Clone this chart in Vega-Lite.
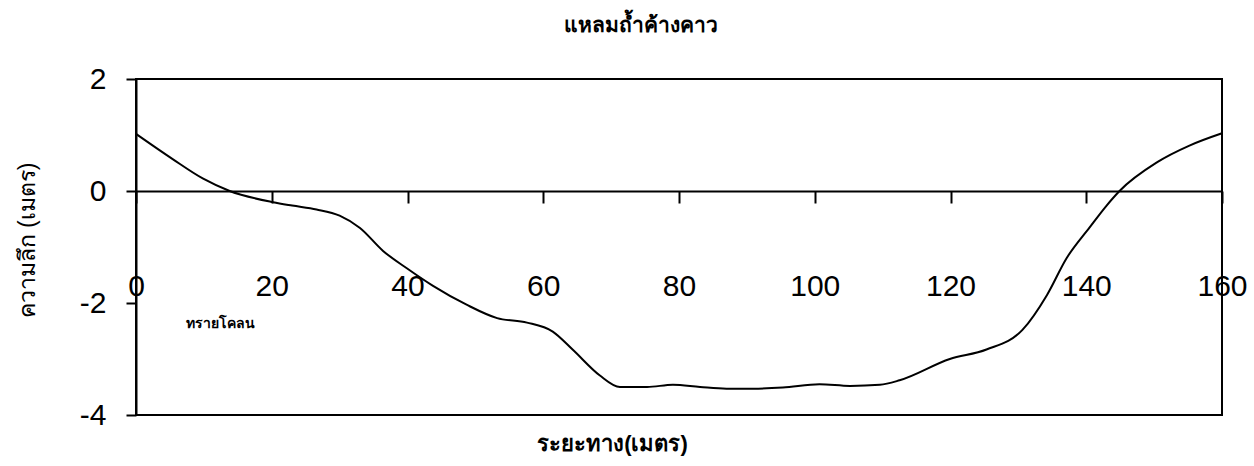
{
  "$schema": "https://vega.github.io/schema/vega-lite/v6.json",
  "width": 1086,
  "height": 336,
  "autosize": {"type": "none"},
  "padding": {"left": 136, "top": 79, "right": 32, "bottom": 51},
  "background": "white",
  "config": {"view": {"stroke": "black", "strokeWidth": 2}, "font": "Liberation Sans"},
  "title": {"text": "แหลมถ้ำค้างคาว", "fontSize": 21, "fontWeight": "bold", "anchor": "middle", "frame": "group", "dx": -38, "offset": 28, "color": "black"},
  "layer": [
    {
      "data": {"values": [
        {"distance": 0, "depth": 1.02},
        {"distance": 5.4, "depth": 0.57},
        {"distance": 9.9, "depth": 0.22},
        {"distance": 13.8, "depth": 0},
        {"distance": 20.2, "depth": -0.2},
        {"distance": 23, "depth": -0.26},
        {"distance": 26.6, "depth": -0.33},
        {"distance": 30, "depth": -0.44},
        {"distance": 33, "depth": -0.66},
        {"distance": 36.4, "depth": -1.07},
        {"distance": 39.9, "depth": -1.38},
        {"distance": 43.7, "depth": -1.69},
        {"distance": 48.7, "depth": -2.03},
        {"distance": 53.2, "depth": -2.27},
        {"distance": 57.6, "depth": -2.35},
        {"distance": 61.4, "depth": -2.51},
        {"distance": 64.4, "depth": -2.84},
        {"distance": 68.3, "depth": -3.29},
        {"distance": 71.3, "depth": -3.5},
        {"distance": 75.3, "depth": -3.5},
        {"distance": 79.1, "depth": -3.46},
        {"distance": 83.1, "depth": -3.5},
        {"distance": 87, "depth": -3.53},
        {"distance": 90.9, "depth": -3.53},
        {"distance": 95.3, "depth": -3.51},
        {"distance": 100.7, "depth": -3.45},
        {"distance": 105.2, "depth": -3.48},
        {"distance": 109.6, "depth": -3.46},
        {"distance": 112.5, "depth": -3.38},
        {"distance": 119.9, "depth": -3.0},
        {"distance": 125.3, "depth": -2.83},
        {"distance": 130.6, "depth": -2.48},
        {"distance": 134.2, "depth": -1.86},
        {"distance": 137.1, "depth": -1.2},
        {"distance": 140.5, "depth": -0.65},
        {"distance": 143, "depth": -0.26},
        {"distance": 144.9, "depth": 0},
        {"distance": 150.4, "depth": 0.51},
        {"distance": 155.2, "depth": 0.81},
        {"distance": 160, "depth": 1.03}
      ]},
      "mark": {"type": "line", "interpolate": "monotone", "color": "black", "strokeWidth": 2},
      "encoding": {
        "x": {
          "field": "distance", "type": "quantitative",
          "scale": {"domain": [0, 160], "nice": false, "zero": false},
          "axis": {
            "orient": "bottom", "offset": -224,
            "values": [0, 20, 40, 60, 80, 100, 120, 140, 160],
            "title": "ระยะทาง(เมตร)", "titleFontSize": 22, "titleFontWeight": "bold", "titleColor": "black",
            "titleX": 476, "titleY": 252, "titleAlign": "center", "titleBaseline": "middle", "titleAnchor": null,
            "labelFontSize": 30, "labelBaseline": "top", "labelPadding": 68, "labelColor": "black",
            "labelFlush": false, "labelOverlap": false,
            "tickSize": 12, "tickWidth": 2, "tickColor": "black",
            "domainWidth": 2, "domainColor": "black", "grid": false
          }
        },
        "y": {
          "field": "depth", "type": "quantitative",
          "scale": {"domain": [-4, 2], "nice": false, "zero": false},
          "axis": {
            "values": [-4, -2, 0, 2],
            "labelExpr": "datum.value < 0 ? '-' + abs(datum.value) : '' + datum.value",
            "title": "ความลึก (เมตร)", "titleFontSize": 23, "titleFontWeight": "normal", "titleColor": "black",
            "titleX": -109, "titleY": 161, "titleAngle": -90, "titleAlign": "center", "titleBaseline": "middle", "titleAnchor": null,
            "labelFontSize": 30, "labelPadding": 20, "labelColor": "black",
            "tickSize": 10, "tickWidth": 2, "tickColor": "black",
            "domainWidth": 2, "domainColor": "black", "grid": false
          }
        }
      }
    },
    {
      "data": {"values": [{"distance": 12.4, "depth": -2.38, "note": "ทรายโคลน"}]},
      "mark": {"type": "text", "fontSize": 14, "fontWeight": "bold", "color": "black", "align": "center", "baseline": "middle"},
      "encoding": {
        "x": {"field": "distance", "type": "quantitative"},
        "y": {"field": "depth", "type": "quantitative"},
        "text": {"field": "note"}
      }
    }
  ]
}
